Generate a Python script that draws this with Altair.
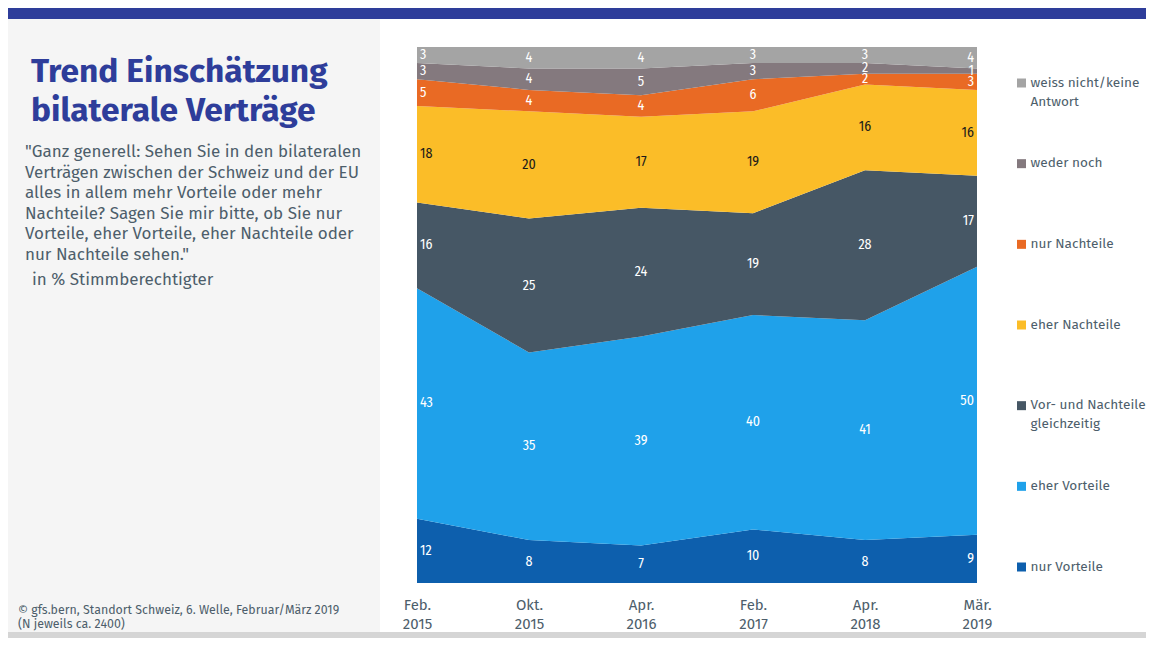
import altair as alt
import pandas as pd

# ---- data -------------------------------------------------------------
waves = ["Feb. 2015", "Okt. 2015", "Apr. 2016", "Feb. 2017", "Apr. 2018", "Mär. 2019"]

# stacking order: bottom -> top
categories = [
    "nur Vorteile",
    "eher Vorteile",
    "Vor- und Nachteile gleichzeitig",
    "eher Nachteile",
    "nur Nachteile",
    "weder noch",
    "weiss nicht/keine Antwort",
]
legend_labels = [
    "nur Vorteile",
    "eher Vorteile",
    "Vor- und Nachteile\ngleichzeitig",
    "eher Nachteile",
    "nur Nachteile",
    "weder noch",
    "weiss nicht/keine\nAntwort",
]
colors = ["#0d5fad", "#1fa1ea", "#465765", "#fbbd28", "#e96a24", "#84797e", "#a4a4a4"]

nur_vorteile = [12, 8, 7, 10, 8, 9]
eher_vorteile = [43, 35, 39, 40, 41, 50]
vor_und_nachteile = [16, 25, 24, 19, 28, 17]
eher_nachteile = [18, 20, 17, 19, 16, 16]
nur_nachteile = [5, 4, 4, 6, 2, 3]
weder_noch = [3, 4, 5, 3, 2, 1]
weiss_nicht = [3, 4, 4, 3, 3, 4]

series = [nur_vorteile, eher_vorteile, vor_und_nachteile, eher_nachteile,
          nur_nachteile, weder_noch, weiss_nicht]

title_lines = ["Trend Einschätzung", "bilaterale Verträge"]
question_lines = [
    '"Ganz generell: Sehen Sie in den bilateralen',
    "Verträgen zwischen der Schweiz und der EU",
    "alles in allem mehr Vorteile oder mehr",
    "Nachteile? Sagen Sie mir bitte, ob Sie nur",
    "Vorteile, eher Vorteile, eher Nachteile oder",
    'nur Nachteile sehen."',
]
unit_text = "in % Stimmberechtigter"
footer_lines = [
    "©  gfs.bern, Standort Schweiz, 6. Welle, Februar/März 2019",
    "(N jeweils ca. 2400)",
]

# ---- table built from the arrays -------------------------------------
rows = []
for wi, w in enumerate(waves):
    lo = 0
    for ci, c in enumerate(categories):
        v = series[ci][wi]
        rows.append({
            "wave": w, "cat": c, "idx": ci, "value": v,
            "lo": lo, "hi": lo + v, "mid": lo + v / 2,
            "pos": 0 if wi == 0 else (2 if wi == len(waves) - 1 else 1),
        })
        lo += v
df = pd.DataFrame(rows)
leg = pd.DataFrame({"cat": categories, "label": legend_labels})

W, H = 560, 536
TEXT = "#4d5e6b"
FONT = "Fira Sans, Open Sans, Lato"
NUMFONT = "Fira Sans Condensed, Roboto Condensed, Lato"
one = pd.DataFrame({"k": [0]})

yscale = alt.Scale(domain=[0, 100], nice=False, zero=True)
xenc = alt.X(
    "wave:O", sort=waves, title=None,
    scale=alt.Scale(type="point", padding=0),
    axis=alt.Axis(labelExpr="split(datum.label, ' ')", ticks=False, domain=False,
                  labelAngle=0, labelFontSize=15, labelColor=TEXT, labelFont=FONT,
                  labelLineHeight=19, labelPadding=14, grid=False),
)
cscale = alt.Scale(domain=categories, range=colors)

# ---- decorative background -------------------------------------------
def rect(x1, x2, y1, y2, fill):
    return alt.Chart(one).mark_rect(fill=fill).encode(
        x=alt.value(x1), x2=alt.value(x2), y=alt.value(y1), y2=alt.value(y2))

top_bar = rect(-409, 729, -39, -28, "#2e3d9a")
left_panel = rect(-409, -37, -28, 585, "#f5f5f5")
bottom_bar = rect(-409, 729, 585, 591, "#d5d5d5")

# ---- areas -------------------------------------------------------------
areas = alt.Chart(df).mark_area(interpolate="linear").encode(
    x=xenc,
    y=alt.Y("hi:Q", scale=yscale, axis=None),
    y2="lo:Q",
    color=alt.Color("cat:N", scale=cscale, legend=None),
    detail="cat:N",
)

def num_layer(pos, align, dx):
    return alt.Chart(df).transform_filter(alt.datum.pos == pos).mark_text(
        align=align, baseline="middle", dx=dx, fontSize=14, font=NUMFONT
    ).encode(
        x=xenc,
        y=alt.Y("mid:Q", scale=yscale, axis=None),
        text="value:Q",
        color=alt.condition(alt.datum.cat == "eher Nachteile",
                            alt.value("#1a1a1a"), alt.value("white")),
    )

nums = [num_layer(0, "left", 3), num_layer(1, "center", 0), num_layer(2, "right", -3)]

# ---- legend (drawn from legend table through a point scale) ----------
lyscale = alt.Scale(type="point", domain=categories[::-1], range=[36, 520], padding=0)
leg_sq = alt.Chart(leg).mark_square(size=81, opacity=1).encode(
    x=alt.value(604.5),
    y=alt.Y("cat:N", scale=lyscale, axis=None),
    color=alt.Color("cat:N", scale=cscale, legend=None),
)
leg_txt = alt.Chart(leg).mark_text(
    align="left", baseline="top", dy=-7.5, fontSize=13.6, font=FONT, color=TEXT,
    lineBreak="\n", lineHeight=19,
).encode(
    x=alt.value(613.5),
    y=alt.Y("cat:N", scale=lyscale, axis=None),
    text="label:N",
)

# ---- left panel texts ----------------------------------------------------
title = alt.Chart(one).mark_text(
    align="left", baseline="alphabetic", fontSize=33.5, fontWeight="bold",
    font=FONT, color="#2e3d9a", lineHeight=39,
).encode(x=alt.value(31 - 417), y=alt.value(82 - 47), text=alt.value(title_lines))

question = alt.Chart(one).mark_text(
    align="left", baseline="alphabetic", fontSize=17, font=FONT, color=TEXT,
    lineHeight=20.6,
).encode(x=alt.value(25 - 417), y=alt.value(157 - 47), text=alt.value(question_lines))

unit = alt.Chart(one).mark_text(
    align="left", baseline="alphabetic", fontSize=17, font=FONT, color=TEXT,
).encode(x=alt.value(32 - 417), y=alt.value(285 - 47), text=alt.value(unit_text))

footer = alt.Chart(one).mark_text(
    align="left", baseline="alphabetic", fontSize=12.4, font=FONT, color=TEXT,
    lineHeight=14,
).encode(x=alt.value(18 - 417), y=alt.value(614 - 47), text=alt.value(footer_lines))

chart = alt.layer(
    top_bar, left_panel, bottom_bar, areas, *nums, leg_sq, leg_txt,
    title, question, unit, footer,
).resolve_scale(y="independent").properties(
    width=W, height=H, padding=0, background="white",
).configure_view(stroke=None)

chart.save("out.html", embed_options={"renderer": "svg", "actions": False})
